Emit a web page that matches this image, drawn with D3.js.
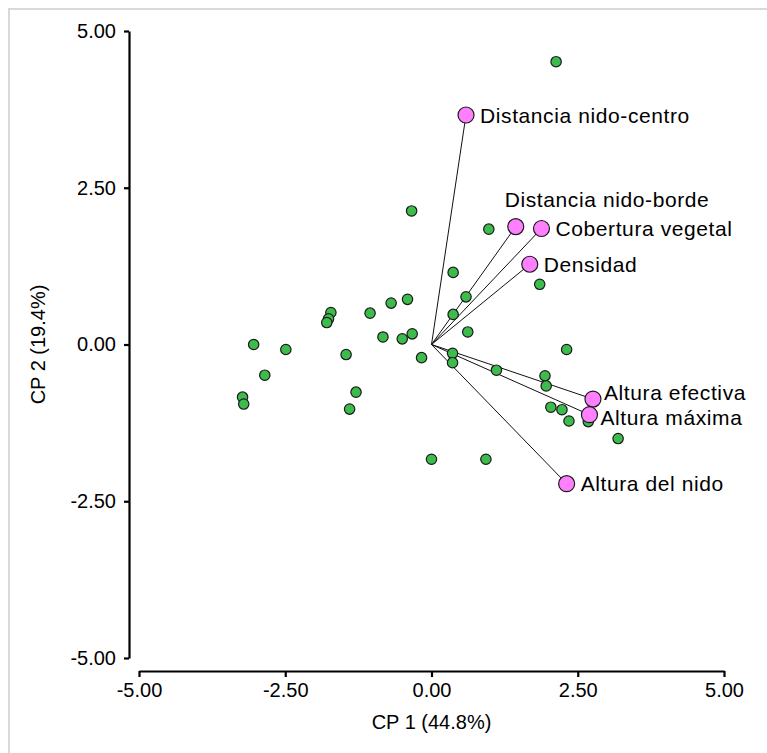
<!DOCTYPE html>
<html>
<head>
<meta charset="utf-8">
<script src="https://cdn.jsdelivr.net/npm/d3@7"></script>
<style>
  html, body { margin: 0; padding: 0; background: #fff; }
  svg { display: block; font-family: "Liberation Sans", Arial, sans-serif; }
</style>
</head>
<body>
<svg id="chart" width="767" height="753"></svg>
<script>
// ---- Data ----
// Observations (CP1, CP2)
const obsX = [-0.34, 0.37, 0.59, 0.37, 0.62, -0.41, -0.69, -1.05, -1.72, -1.76, -1.79, -0.83, -0.50, -0.33,
              -0.17, 0.36, 0.36, -3.04, -2.49, -1.46, -2.85, -1.29, -3.23, -3.21, -1.40, 0.98, 1.85, 2.31,
              1.11, 1.94, 1.96, 2.04, 2.23, 2.35, 2.68, 3.19, 0.00, 0.93, 2.13];
const obsY = [2.13, 1.15, 0.76, 0.48, 0.20, 0.72, 0.66, 0.50, 0.51, 0.41, 0.35, 0.12, 0.09, 0.17,
              -0.21, -0.14, -0.29, 0.00, -0.08, -0.16, -0.49, -0.76, -0.84, -0.95, -1.03, 1.84, 0.96, -0.08,
              -0.41, -0.50, -0.66, -1.00, -1.04, -1.22, -1.23, -1.50, -1.83, -1.83, 4.51];
// Variables (loadings)
const varNames = ["Distancia nido-centro", "Distancia nido-borde", "Cobertura vegetal", "Densidad",
                  "Altura efectiva", "Altura máxima", "Altura del nido"];
const varX = [0.59, 1.44, 1.88, 1.68, 2.76, 2.70, 2.31];
const varY = [3.66, 1.88, 1.85, 1.28, -0.87, -1.12, -2.22];
const tickValues = [-5, -2.5, 0, 2.5, 5];
const xTitle = "CP 1 (44.8%)";
const yTitle = "CP 2 (19.4%)";

// ---- Layout ----
const svg = d3.select("#chart");
const x = d3.scaleLinear().domain([-5, 5]).range([139, 724]);
const y = d3.scaleLinear().domain([-5, 5]).range([658, 31]);
const f2 = d3.format(".2f");
const fmt = v => f2(v).replace("\u2212", "-");

// frame (left & top light grey border)
svg.append("line").attr("x1", 9).attr("x2", 9).attr("y1", 8).attr("y2", 753)
  .attr("stroke", "#d9d9d9").attr("stroke-width", 2);
svg.append("line").attr("x1", 8).attr("x2", 767).attr("y1", 9).attr("y2", 9)
  .attr("stroke", "#d9d9d9").attr("stroke-width", 2);

// axes
const yAxis = svg.append("g").attr("transform", "translate(129,0)")
  .call(d3.axisLeft(y).tickValues(tickValues).tickFormat(fmt).tickSize(5).tickSizeOuter(0).tickPadding(8));
const xAxis = svg.append("g").attr("transform", "translate(0,671)")
  .call(d3.axisBottom(x).tickValues(tickValues).tickFormat(fmt).tickSize(6).tickSizeOuter(0).tickPadding(6));
[yAxis, xAxis].forEach(g => {
  g.select(".domain").attr("stroke", "#000").attr("stroke-width", 2.2);
  g.selectAll(".tick line").attr("stroke", "#000").attr("stroke-width", 2.2);
  g.selectAll(".tick text").attr("fill", "#000").style("font-size", "20px")
    .style("font-family", "'Liberation Sans', Arial, sans-serif");
});

// axis titles
svg.append("text").attr("x", x(0)).attr("y", 729).attr("text-anchor", "middle")
  .style("font-size", "20px").attr("fill", "#000").text(xTitle);
svg.append("text").attr("transform", `translate(45,${y(0)}) rotate(-90)`).attr("text-anchor", "middle")
  .style("font-size", "20px").attr("fill", "#000").text(yTitle);

// vectors
const vars = varNames.map((n, i) => ({ name: n, x: varX[i], y: varY[i] }));
svg.append("g").selectAll("line").data(vars).join("line")
  .attr("x1", x(0)).attr("y1", y(0))
  .attr("x2", d => x(d.x)).attr("y2", d => y(d.y))
  .attr("stroke", "#111").attr("stroke-width", 1);

// observations
const obs = obsX.map((v, i) => ({ x: v, y: obsY[i] }));
svg.append("g").selectAll("circle").data(obs).join("circle")
  .attr("cx", d => x(d.x)).attr("cy", d => y(d.y)).attr("r", 5.2)
  .attr("fill", "#3dbb4c").attr("stroke", "#1a1a1a").attr("stroke-width", 1.2);

// variable markers
svg.append("g").selectAll("circle").data(vars).join("circle")
  .attr("cx", d => x(d.x)).attr("cy", d => y(d.y)).attr("r", 8)
  .attr("fill", "#ff80ff").attr("stroke", "#1a1a1a").attr("stroke-width", 1.2);

// label placement (dx, dy relative to marker)
function labelOffset(name) {
  if (name === "Distancia nido-borde") return [-11, -27];
  if (name === "Altura efectiva") return [11, -7];
  if (name === "Altura máxima") return [11, 3];
  return [14, 0];
}
svg.append("g").selectAll("text").data(vars).join("text")
  .attr("x", d => x(d.x) + labelOffset(d.name)[0])
  .attr("y", d => y(d.y) + labelOffset(d.name)[1])
  .attr("dominant-baseline", "central")
  .style("font-size", "21px").style("letter-spacing", "0.6px").attr("fill", "#000")
  .text(d => d.name);
</script>
</body>
</html>
